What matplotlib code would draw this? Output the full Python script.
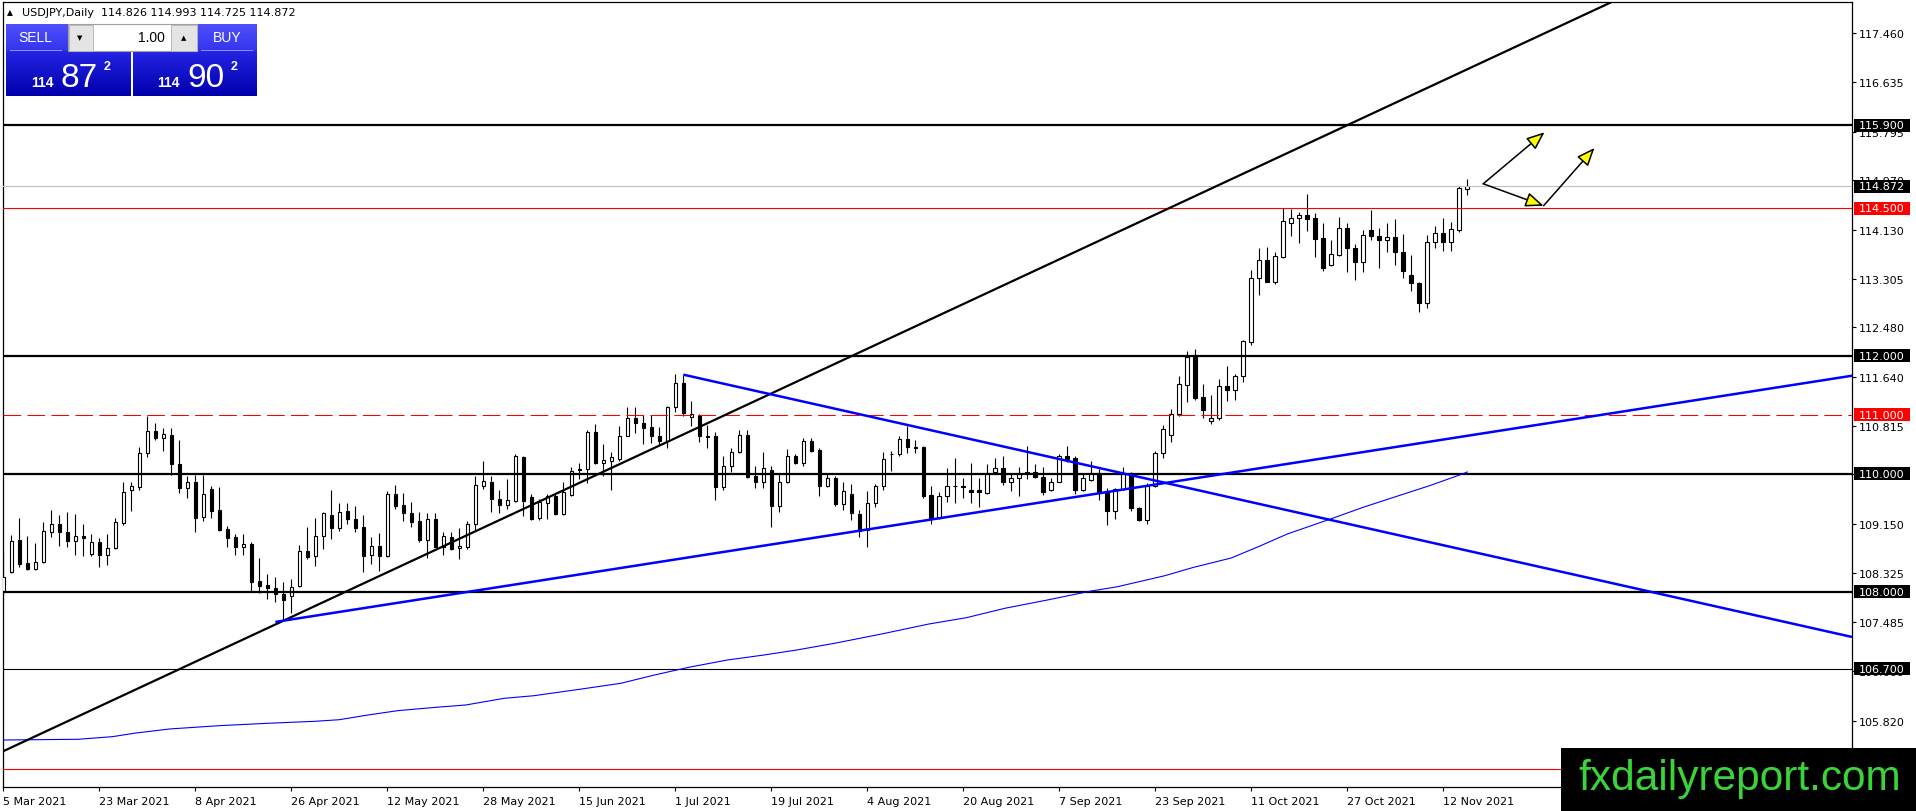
import numpy as np
import matplotlib
matplotlib.use("Agg")
import matplotlib.pyplot as plt
from matplotlib.patches import Rectangle

# ---------------- data ----------------
opens = [107.991,108.341,108.872,108.488,108.381,108.499,109.008,109.143,109.008,108.855,
         108.946,108.635,108.838,108.618,108.737,109.166,109.719,109.781,110.346,110.718,
         110.600,110.651,110.171,109.753,109.855,109.262,109.742,109.380,109.058,108.929,
         108.754,108.804,108.178,108.116,108.070,107.957,107.935,108.093,108.686,108.601,
         108.939,109.301,109.075,109.363,109.227,109.092,108.618,108.781,108.612,109.656,
         109.470,109.335,109.193,108.883,109.227,108.764,108.922,108.736,108.764,109.148,
         109.798,109.854,109.566,109.476,109.543,110.277,109.606,109.244,109.504,109.628,
         109.323,109.645,110.080,110.074,110.701,110.187,110.210,110.249,110.633,110.938,
         110.859,110.786,110.639,110.560,111.124,111.536,110.955,111.000,110.639,110.633,
         109.769,110.125,110.362,110.656,109.961,109.854,110.063,109.459,109.854,110.294,
         110.181,110.554,110.407,109.798,109.927,109.487,109.651,109.318,109.052,109.498,
         109.786,110.328,110.334,110.582,110.453,110.453,109.640,109.250,109.617,109.787,
         109.792,109.719,109.719,109.679,110.024,110.091,109.854,109.922,110.035,110.035,
         109.939,109.719,109.866,110.295,110.266,109.730,109.888,110.007,109.696,109.374,
         109.747,110.007,109.414,109.222,109.798,110.345,110.662,111.017,111.509,111.971,
         111.294,110.888,110.939,111.481,111.424,111.650,112.226,113.310,113.621,113.254,
         113.671,114.242,114.326,114.377,114.326,113.988,113.542,113.705,114.157,113.824,
         113.581,114.123,114.021,113.954,114.005,113.751,113.361,113.225,112.887,113.920,
         114.072,113.920,114.134,114.826]
highs = [108.669,108.963,109.250,108.946,108.821,109.177,109.386,109.296,109.346,109.313,
         109.143,108.979,108.906,108.979,109.245,109.855,109.866,110.447,110.972,110.859,
         110.775,110.775,110.572,109.956,109.973,109.979,109.787,109.775,109.120,108.979,
         108.979,108.850,108.567,108.307,108.245,108.166,108.211,108.793,109.092,109.244,
         109.357,109.724,109.504,109.504,109.453,109.301,108.922,108.996,109.713,109.809,
         109.668,109.521,109.346,109.340,109.335,109.018,109.007,109.075,109.193,109.956,
         110.215,109.961,109.724,109.910,110.340,110.306,109.656,109.572,109.656,109.656,
         109.854,110.108,110.181,110.740,110.836,110.503,110.362,110.802,111.124,111.124,
         110.994,110.994,110.786,111.153,111.683,111.678,111.232,111.011,110.825,110.712,
         110.294,110.441,110.740,110.740,110.125,110.373,110.136,110.012,110.419,110.334,
         110.611,110.611,110.430,109.995,109.967,109.854,109.826,109.391,109.702,109.831,
         110.362,110.385,110.633,110.814,110.571,110.475,109.798,109.685,110.091,110.266,
         109.922,110.182,109.922,110.159,110.272,110.295,110.012,110.108,110.464,110.159,
         110.108,109.922,110.340,110.475,110.306,110.012,110.216,110.080,109.753,109.758,
         110.108,110.035,109.431,109.843,110.391,110.825,111.096,111.661,112.073,112.113,
         111.520,111.334,111.605,111.820,111.684,112.271,113.451,113.824,113.835,113.751,
         114.496,114.485,114.439,114.739,114.417,114.247,113.959,114.355,114.247,113.892,
         114.134,114.468,114.163,114.247,114.315,114.055,113.705,113.242,114.044,114.191,
         114.332,114.259,114.868,114.993]
lows = [107.850,108.324,108.426,108.364,108.364,108.488,108.923,108.782,108.754,108.629,
        108.612,108.612,108.415,108.460,108.720,109.137,109.375,109.730,110.289,110.572,
        110.391,109.973,109.674,109.595,109.008,109.200,109.256,109.036,108.759,108.629,
        108.624,108.020,107.986,107.878,107.822,107.512,107.647,108.076,108.556,108.443,
        108.725,108.894,109.035,109.148,109.018,108.341,108.471,108.358,108.584,109.402,
        109.193,109.092,108.838,108.578,108.753,108.623,108.714,108.561,108.725,109.052,
        109.741,109.357,109.335,109.408,109.527,109.289,109.216,109.222,109.233,109.306,
        109.306,109.628,109.910,109.843,110.170,109.967,109.730,110.215,110.633,110.690,
        110.503,110.520,110.486,110.430,111.040,110.983,110.814,110.543,110.430,109.560,
        109.730,110.035,110.356,109.933,109.752,109.758,109.103,109.357,109.843,110.165,
        110.125,110.373,109.628,109.769,109.459,109.391,109.216,108.922,108.753,109.442,
        109.724,110.052,110.294,110.351,110.345,109.583,109.148,109.233,109.515,109.504,
        109.589,109.504,109.442,109.657,110.012,109.809,109.707,109.617,109.911,109.922,
        109.640,109.707,109.854,110.193,109.651,109.713,109.877,109.561,109.132,109.233,
        109.730,109.374,109.205,109.148,109.770,110.272,110.543,110.972,111.221,111.254,
        110.939,110.843,110.916,111.238,111.255,111.549,112.181,113.028,113.242,113.214,
        113.649,114.033,113.909,114.106,113.677,113.440,113.513,113.694,113.412,113.288,
        113.423,113.965,113.491,113.751,113.542,113.310,113.101,112.746,112.802,113.830,
        113.779,113.779,114.101,114.725]
closes = [108.257,108.866,108.477,108.381,108.499,109.025,109.143,109.008,108.855,108.940,
          108.906,108.838,108.618,108.737,109.177,109.685,109.787,110.346,110.718,110.605,
          110.673,110.171,109.753,109.855,109.256,109.651,109.375,109.053,108.917,108.754,
          108.804,108.172,108.104,108.070,107.957,107.867,108.087,108.697,108.590,108.939,
          109.329,109.075,109.346,109.227,109.086,108.612,108.781,108.612,109.656,109.459,
          109.335,109.188,108.877,109.227,108.764,108.939,108.725,108.770,109.148,109.803,
          109.871,109.577,109.476,109.549,110.294,109.543,109.233,109.515,109.617,109.323,
          109.696,110.052,110.057,110.701,110.187,110.238,110.277,110.633,110.938,110.853,
          110.780,110.633,110.560,111.124,111.536,111.028,111.006,110.633,110.628,109.769,
          110.125,110.362,110.656,109.950,109.854,110.097,109.459,109.854,110.294,110.181,
          110.554,110.390,109.798,109.927,109.487,109.702,109.329,109.035,109.504,109.798,
          110.244,110.340,110.582,110.452,110.441,109.617,109.250,109.617,109.792,109.798,
          109.770,109.696,109.685,110.007,110.091,109.866,109.922,110.007,110.012,109.939,
          109.696,109.866,110.295,110.249,109.730,109.922,110.007,109.696,109.374,109.747,
          110.007,109.414,109.216,109.798,110.345,110.758,111.017,111.514,111.971,111.288,
          111.086,110.939,111.481,111.424,111.650,112.243,113.310,113.621,113.254,113.683,
          114.276,114.326,114.377,114.321,113.982,113.491,113.717,114.157,113.818,113.581,
          114.044,114.021,113.954,114.005,113.751,113.429,113.225,112.887,113.920,114.072,
          113.920,114.140,114.835,114.872]

date_ticks = [0, 12, 24, 36, 48, 60, 72, 84, 96, 108, 120, 132, 144, 156, 168, 180]
date_labels = ["5 Mar 2021", "23 Mar 2021", "8 Apr 2021", "26 Apr 2021", "12 May 2021",
               "28 May 2021", "15 Jun 2021", "1 Jul 2021", "19 Jul 2021", "4 Aug 2021",
               "20 Aug 2021", "7 Sep 2021", "23 Sep 2021", "11 Oct 2021", "27 Oct 2021",
               "12 Nov 2021"]
price_ticks = [117.460, 116.635, 115.795, 114.970, 114.130, 113.305, 112.480, 111.640,
               110.815, 109.990, 109.150, 108.325, 107.485, 106.660, 105.820]

# moving average
ma_bars = [0, 9.3, 13.6, 16.6, 20.8, 26.9, 33.0, 39.0, 42.0, 45.6, 49.3, 54.1, 57.8, 62.6,
           66.3, 72.3, 77.2, 81.4, 85.7, 90.5, 95.1, 99.2, 103.9, 109.8, 115.7, 120.4,
           125.2, 130.5, 135.8, 139.3, 145.2, 148.8, 153.5, 157.0, 160.5, 165.9, 170.0,
           174.7, 178.3, 182.4, 183.0]
ma_vals = [105.490, 105.502, 105.546, 105.609, 105.677, 105.732, 105.773, 105.807, 105.834,
           105.914, 105.987, 106.044, 106.083, 106.196, 106.240, 106.354, 106.451, 106.591,
           106.722, 106.845, 106.930, 107.015, 107.128, 107.286, 107.455, 107.562, 107.721,
           107.861, 108.009, 108.087, 108.273, 108.415, 108.573, 108.771, 108.979, 109.233,
           109.432, 109.640, 109.798, 109.996, 110.03]

# levels
black_levels = [115.900, 112.000, 110.000, 108.000]
thin_black_level = 106.700
red_levels = [114.500, 105.000]
red_dashed_level = 111.000
current_price = 114.872

# trendlines (bar, price) anchor points
black_trend = [(35.0, 107.51), (187.1, 117.109)]
blue_up = [(34.0, 107.49), (231.1, 111.66)]
blue_down = [(85.0, 111.678), (231.1, 107.235)]

# arrows (bar, price)
arrow_start = (185.0, 114.911)
arrow_tip1 = (192.66, 115.783)
arrow_mid2 = (192.54, 114.539)
arrow_tip3 = (198.9, 115.517)

header_text = "USDJPY,Daily  114.826 114.993 114.725 114.872"

# ---------------- figure ----------------
W, H = 1916, 812
fig = plt.figure(figsize=(W / 100, H / 100), dpi=100)
fig.patch.set_facecolor("white")
ax = fig.add_axes([3 / W, 24 / H, 1849 / W, 785 / H])
ax.set_xlim(-0.05, 231.1)
ax.set_ylim(104.694, 117.990)
ax.set_facecolor("white")
for s in ax.spines.values():
    s.set_color("black")
    s.set_linewidth(0.9)

# candles
x = np.arange(len(opens))
o = np.array(opens); c = np.array(closes); h = np.array(highs); l = np.array(lows)
up = c >= o
ax.vlines(x, l, h, color="black", linewidth=0.8, zorder=2)
bottoms = np.minimum(o, c)
heights = np.abs(c - o)
ax.bar(x[up], heights[up], bottom=bottoms[up], width=0.45, facecolor="white",
       edgecolor="black", linewidth=0.8, zorder=3)
ax.bar(x[~up], heights[~up], bottom=bottoms[~up], width=0.45, facecolor="black",
       edgecolor="black", linewidth=0.8, zorder=3)

# horizontal levels
for lv in black_levels:
    ax.axhline(lv, color="black", linewidth=1.6, zorder=5)
ax.axhline(thin_black_level, color="black", linewidth=0.8, zorder=5)
for lv in red_levels:
    ax.axhline(lv, color="#ff0000", linewidth=0.8, zorder=5)
ax.axhline(red_dashed_level, color="#ff0000", linewidth=0.75, dashes=(17, 6), zorder=5)
ax.axhline(current_price, color="#c0c0c0", linewidth=0.8, zorder=4)

# MA
ax.plot(ma_bars, ma_vals, color="#0000ff", linewidth=0.8, zorder=5)

# trendlines
ax.axline(black_trend[0], black_trend[1], color="black", linewidth=1.6, zorder=6)
ax.plot([p[0] for p in blue_up], [p[1] for p in blue_up], color="#0000ff",
        linewidth=1.8, zorder=6, solid_capstyle="butt")
ax.plot([p[0] for p in blue_down], [p[1] for p in blue_down], color="#0000ff",
        linewidth=1.8, zorder=6, solid_capstyle="butt")

# arrows
aprops = dict(arrowstyle="-|>,head_length=1.1,head_width=0.45", facecolor="#ffff00",
              edgecolor="black", linewidth=1.1, shrinkA=0, shrinkB=0)
ax.annotate("", xy=arrow_tip1, xytext=arrow_start, arrowprops=aprops, zorder=7)
ax.annotate("", xy=arrow_mid2, xytext=arrow_start, arrowprops=aprops, zorder=7)
ax.annotate("", xy=arrow_tip3, xytext=arrow_mid2, arrowprops=aprops, zorder=7)

# axes ticks
ax.yaxis.tick_right()
ax.set_yticks(price_ticks)
ax.set_yticklabels([f"{v:.3f}" for v in price_ticks])
ax.tick_params(axis="y", which="both", right=True, left=False, length=3, width=0.8,
               pad=2.2, labelsize=8, colors="black")
ax.set_xticks(date_ticks)
ax.set_xticklabels(date_labels, ha="left")
ax.tick_params(axis="x", length=3, width=0.8, pad=3.5, labelsize=8, colors="black")
for t in ax.get_xticklabels():
    t.set_horizontalalignment("left")

# price label boxes on right axis
ytr = ax.get_yaxis_transform()
bx0 = (1854 - 3) / 1849
bw = 56 / 1849
bh = 13 / 59.04
box_items = [(115.900, "black"), (114.872, "black"), (114.500, "#ff0000"),
             (112.000, "black"), (111.000, "#ff0000"), (110.000, "black"),
             (108.000, "black"), (106.700, "black")]
for pv, col in box_items:
    ax.add_patch(Rectangle((bx0, pv - bh / 2), bw, bh, transform=ytr, facecolor=col,
                           edgecolor="none", clip_on=False, zorder=10))
    ax.text((1859 - 3) / 1849, pv, f"{pv:.3f}", transform=ytr, color="white",
            fontsize=8, va="center", ha="left", clip_on=False, zorder=11)

# header
fig.text(7 / W, 1 - 13 / H, "\u25b2", fontsize=5.5, va="center", ha="left", zorder=12)
fig.text(22 / W, 1 - 13 / H, header_text, fontsize=8, va="center", ha="left", zorder=12)

# trade panel
def grad_box(x0, y0, w, hh, top, bot, z=15):
    t = np.linspace(0, 1, hh)[:, None, None]
    arr = (np.array(top)[None, None, :] * (1 - t) + np.array(bot)[None, None, :] * t)
    arr = arr * np.ones((1, w, 1)) / 255.0
    fig.figimage(arr, xo=x0, yo=H - (y0 + hh), origin="upper", zorder=z)

def prect(x0, y0, w, hh, fc, ec="none", lw=0.0, z=16):
    fig.add_artist(Rectangle((x0 / W, 1 - (y0 + hh) / H), w / W, hh / H,
                             transform=fig.transFigure, facecolor=fc, edgecolor=ec,
                             linewidth=lw, zorder=z))

grad_box(6, 25, 62, 27, (78, 78, 252), (52, 52, 238))
grad_box(197, 25, 60, 27, (78, 78, 252), (52, 52, 238))
grad_box(6, 52, 125, 45, (36, 36, 228), (0, 0, 172))
grad_box(133, 52, 124, 45, (36, 36, 228), (0, 0, 172))
prect(10, 51, 52, 1, "#8c8cff", z=17)
prect(201, 51, 52, 1, "#8c8cff", z=17)
# spinner
prect(68, 25, 129, 27, "white", ec="#a0a0a0", lw=0.8, z=17)
prect(68.5, 25.5, 24, 26, "#e4e4e4", ec="#b0b0b0", lw=0.6, z=18)
prect(171, 25.5, 25.5, 26, "#e4e4e4", ec="#b0b0b0", lw=0.6, z=18)
fig.text(80 / W, 1 - 38 / H, "\u25bc", fontsize=5, ha="center", va="center", zorder=19)
fig.text(183.5 / W, 1 - 38 / H, "\u25b2", fontsize=5, ha="center", va="center", zorder=19)
fig.text(165 / W, 1 - 38 / H, "1.00", fontsize=10, ha="right", va="center",
         family="Liberation Sans", zorder=19)
fig.text(35 / W, 1 - 38 / H, "SELL", fontsize=10, ha="center", va="center",
         family="Liberation Sans", color="white", zorder=19)
fig.text(227 / W, 1 - 38 / H, "BUY", fontsize=10, ha="center", va="center",
         family="Liberation Sans", color="white", zorder=19)
for xs, big, xb, x2 in [(31, "87", 60, 104), (157, "90", 187, 231)]:
    fig.text(xs / W, 1 - 87 / H, "114", fontsize=10, weight="bold", ha="left",
             va="baseline", family="Liberation Sans", color="white", zorder=19)
    fig.text(xb / W, 1 - 87 / H, big, fontsize=24, ha="left", va="baseline",
             family="Liberation Sans", color="white", zorder=19)
    fig.text(x2 / W, 1 - 70 / H, "2", fontsize=9, weight="bold", ha="left",
             va="baseline", family="Liberation Sans", color="white", zorder=19)

# watermark
prect(1561, 749, 355, 63, "black", z=20)
fig.text(1578 / W, (H - 790) / H, "fxdailyreport.com", fontsize=30.5,
         family="Liberation Sans", color="#3ad43a", ha="left", va="baseline", zorder=21)

fig.savefig("out.png", dpi=100, facecolor="white")
